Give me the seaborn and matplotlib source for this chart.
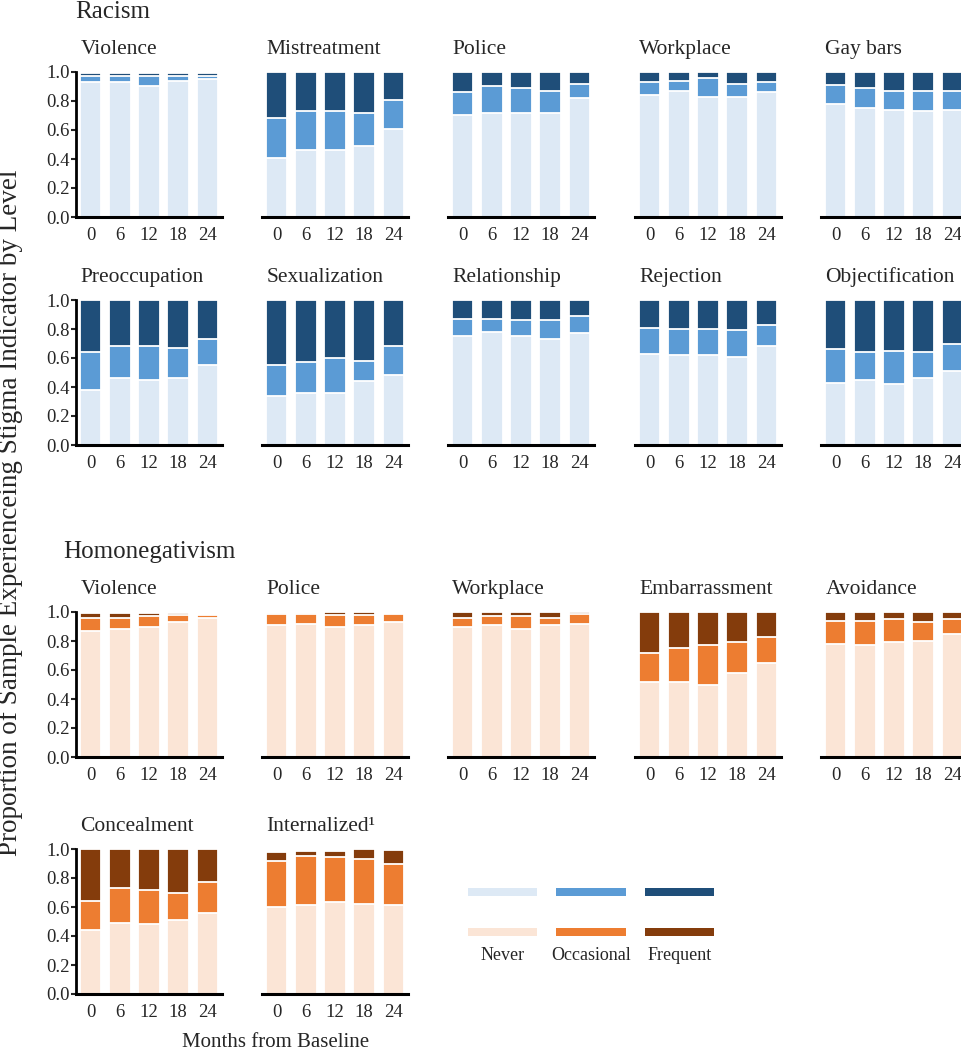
import numpy as np
import pandas as pd
import matplotlib
matplotlib.use('Agg')
import matplotlib.pyplot as plt
import seaborn as sns
from matplotlib.patches import Rectangle

sns.set_style('white')
plt.rcParams['font.family'] = ['Liberation Serif', 'DejaVu Serif']

# Months and levels
months = ['0', '6', '12', '18', '24']
levels = ['Never', 'Occasional', 'Frequent']

blues = ['#dde9f5', '#5b9bd5', '#1f4e79']
oranges = ['#fbe5d6', '#ed7d31', '#843c0c']

# Racism: rows = never, occasional, frequent
rac_violence = [[0.93, 0.93, 0.905, 0.935, 0.955],
                [0.045, 0.045, 0.07, 0.035, 0.02],
                [0.015, 0.015, 0.015, 0.02, 0.015]]
rac_mistreatment = [[0.41, 0.46, 0.46, 0.49, 0.61],
                    [0.27, 0.27, 0.27, 0.23, 0.20],
                    [0.32, 0.27, 0.27, 0.28, 0.19]]
rac_police = [[0.70, 0.72, 0.72, 0.72, 0.82],
              [0.16, 0.18, 0.17, 0.15, 0.10],
              [0.14, 0.10, 0.11, 0.13, 0.08]]
rac_workplace = [[0.84, 0.87, 0.83, 0.83, 0.86],
                 [0.09, 0.07, 0.13, 0.09, 0.07],
                 [0.07, 0.06, 0.04, 0.08, 0.07]]
rac_gaybars = [[0.78, 0.75, 0.74, 0.73, 0.74],
               [0.13, 0.14, 0.13, 0.14, 0.13],
               [0.09, 0.11, 0.13, 0.13, 0.13]]
rac_preoccupation = [[0.38, 0.46, 0.45, 0.46, 0.55],
                     [0.26, 0.22, 0.23, 0.21, 0.18],
                     [0.36, 0.32, 0.32, 0.33, 0.27]]
rac_sexualization = [[0.34, 0.36, 0.36, 0.44, 0.48],
                     [0.21, 0.21, 0.24, 0.14, 0.20],
                     [0.45, 0.43, 0.40, 0.42, 0.32]]
rac_relationship = [[0.75, 0.78, 0.75, 0.73, 0.77],
                    [0.12, 0.09, 0.11, 0.13, 0.12],
                    [0.13, 0.13, 0.14, 0.14, 0.11]]
rac_rejection = [[0.63, 0.62, 0.62, 0.61, 0.68],
                 [0.18, 0.18, 0.18, 0.18, 0.15],
                 [0.19, 0.20, 0.20, 0.21, 0.17]]
rac_objectification = [[0.43, 0.45, 0.42, 0.46, 0.51],
                       [0.23, 0.19, 0.23, 0.18, 0.19],
                       [0.34, 0.36, 0.35, 0.36, 0.30]]

# Homonegativism
hom_violence = [[0.87, 0.88, 0.90, 0.93, 0.96],
                [0.09, 0.08, 0.07, 0.05, 0.02],
                [0.03, 0.03, 0.02, 0.015, 0.0]]
hom_police = [[0.91, 0.915, 0.90, 0.91, 0.93],
              [0.075, 0.07, 0.08, 0.07, 0.055],
              [0.01, 0.01, 0.02, 0.02, 0.0]]
hom_workplace = [[0.90, 0.91, 0.88, 0.91, 0.915],
                 [0.06, 0.06, 0.09, 0.05, 0.07],
                 [0.04, 0.03, 0.03, 0.04, 0.015]]
hom_embarrassment = [[0.52, 0.52, 0.50, 0.58, 0.65],
                     [0.20, 0.23, 0.27, 0.21, 0.18],
                     [0.28, 0.25, 0.23, 0.21, 0.17]]
hom_avoidance = [[0.78, 0.77, 0.79, 0.80, 0.85],
                 [0.16, 0.17, 0.16, 0.13, 0.10],
                 [0.06, 0.06, 0.05, 0.07, 0.05]]
hom_concealment = [[0.44, 0.49, 0.48, 0.51, 0.56],
                   [0.20, 0.24, 0.24, 0.19, 0.21],
                   [0.36, 0.27, 0.28, 0.30, 0.23]]
hom_internalized = [[0.60, 0.617, 0.633, 0.624, 0.612],
                    [0.32, 0.335, 0.31, 0.31, 0.283],
                    [0.06, 0.035, 0.04, 0.065, 0.095]]

racism_panels = [('Violence', rac_violence), ('Mistreatment', rac_mistreatment),
                 ('Police', rac_police), ('Workplace', rac_workplace),
                 ('Gay bars', rac_gaybars), ('Preoccupation', rac_preoccupation),
                 ('Sexualization', rac_sexualization), ('Relationship', rac_relationship),
                 ('Rejection', rac_rejection), ('Objectification', rac_objectification)]
homo_panels = [('Violence', hom_violence), ('Police', hom_police),
               ('Workplace', hom_workplace), ('Embarrassment', hom_embarrassment),
               ('Avoidance', hom_avoidance), ('Concealment', hom_concealment),
               ('Internalized\u00b9', hom_internalized)]

# Layout in pixels
W, H = 961, 1050
fig = plt.figure(figsize=(W / 100, H / 100), dpi=100)
col_left = [76, 262, 448, 635, 821]
row_top = [72, 300, 612, 849]
ax_w, ax_h = 146, 145


def make_ax(r, c):
    return fig.add_axes([col_left[c] / W, 1 - (row_top[r] + ax_h) / H, ax_w / W, ax_h / H])


def draw_panel(ax, title, vals, pal, first_col):
    df = pd.DataFrame({'month': months, 'never': vals[0],
                       'occasional': vals[1], 'frequent': vals[2]})
    df['upto_occ'] = df['never'] + df['occasional']
    df['upto_freq'] = df['upto_occ'] + df['frequent']
    # tallest first, then overlay the lower levels
    for col, c in zip(['upto_freq', 'upto_occ', 'never'], pal[::-1]):
        sns.barplot(data=df, x='month', y=col, order=months, color=c, saturation=1,
                    width=0.74, edgecolor='white', linewidth=1.3, errorbar=None, ax=ax)
    ax.set_ylim(0, 1)
    ax.set_xlim(-0.5, 4.5)
    ax.set_xlabel('')
    ax.set_ylabel('')
    ax.set_title(title, loc='left', x=0.03, pad=13, fontsize=15.5)
    ax.tick_params(axis='x', length=0, pad=7, labelsize=13.5)
    for s in ['top', 'right']:
        ax.spines[s].set_visible(False)
    ax.spines['bottom'].set_linewidth(2.2)
    ax.spines['bottom'].set_color('black')
    if first_col:
        ax.spines['left'].set_linewidth(2)
        ax.spines['left'].set_color('black')
        ax.set_yticks(np.arange(0, 1.01, 0.2))
        ax.set_yticklabels([f'{t:.1f}' for t in np.arange(0, 1.01, 0.2)])
        ax.tick_params(axis='y', left=True, length=3.5, width=1.5, pad=1, labelsize=13.5)
    else:
        ax.spines['left'].set_visible(False)
        ax.set_yticks([])


for i, (name, vals) in enumerate(racism_panels):
    r, c = divmod(i, 5)
    draw_panel(make_ax(r, c), name, vals, blues, c == 0)

for i, (name, vals) in enumerate(homo_panels):
    r, c = divmod(i, 5)
    draw_panel(make_ax(r + 2, c), name, vals, oranges, c == 0)

fig.text(75 / W, 1 - 18 / H, 'Racism', fontsize=18, va='baseline')
fig.text(63 / W, 1 - 558 / H, 'Homonegativism', fontsize=18, va='baseline')

fig.text(11 / W, 1 - 513 / H, 'Proportion of Sample Experienceing Stigma Indicator by Level',
         rotation=90, ha='center', va='center', fontsize=19.5)
fig.text(276 / W, 1 - 1047 / H, 'Months from Baseline', ha='center', va='baseline', fontsize=15)

# Legend: two rows of swatches, labels under the orange row
leg = fig.add_axes([458 / W, 1 - 970 / H, 266 / W, 100 / H])
leg.set_xlim(0, 3)
leg.set_ylim(100, 0)
leg.axis('off')
for row_y, pal in zip([22, 62], [blues, oranges]):
    for i, c in enumerate(pal):
        leg.add_patch(Rectangle((i + 0.11, row_y - 4), 0.78, 8, color=c, lw=0))
for i, lab in enumerate(levels):
    leg.text(i + 0.5, 85, lab, ha='center', va='center', fontsize=13)

fig.savefig('out.png', dpi=100)
